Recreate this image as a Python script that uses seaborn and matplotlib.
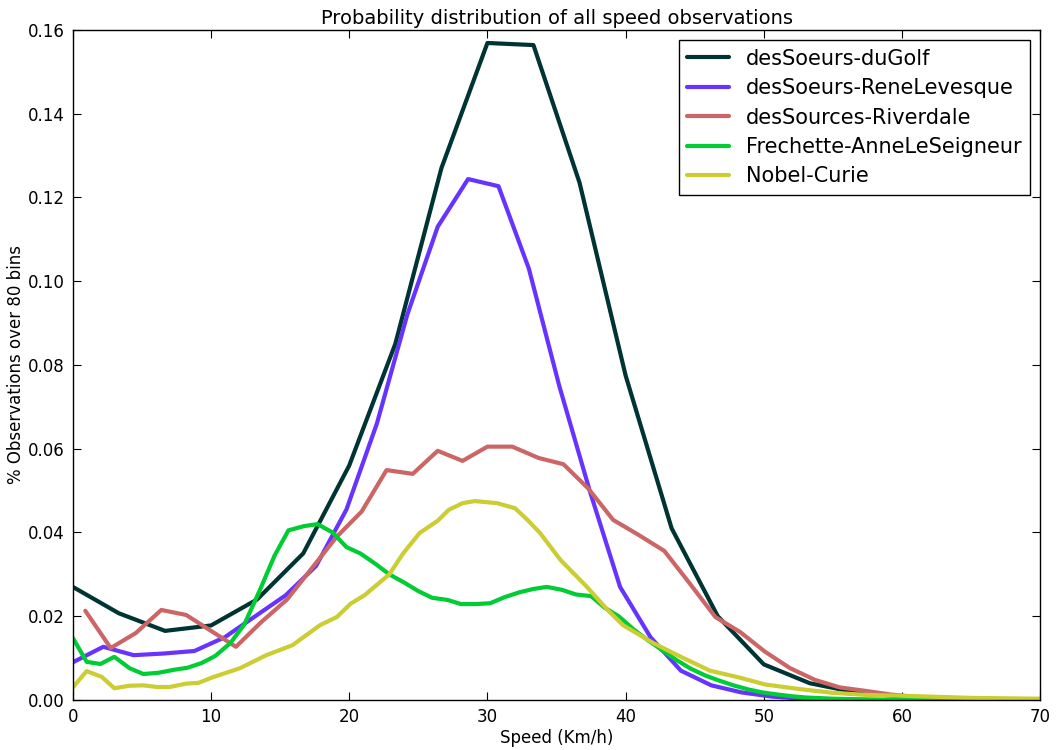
import matplotlib
matplotlib.use("Agg")
import matplotlib.pyplot as plt
import numpy as np
import pandas as pd
import seaborn as sns

# =========================
# DATA
# =========================
series_names = ["desSoeurs-duGolf", "desSoeurs-ReneLevesque", "desSources-Riverdale",
                "Frechette-AnneLeSeigneur", "Nobel-Curie"]
series_colors = ["#003333", "#6633ff", "#cc6666", "#00cc33", "#cccc33"]

golf_x = [0, 3.33, 6.67, 10, 13.33, 16.67, 20, 23.33, 26.67, 30, 33.33, 36.67, 40,
          43.33, 46.67, 50, 53.33, 56.67, 60, 63.33, 66.67, 70]
golf_y = [0.027, 0.0207, 0.0165, 0.0178, 0.024, 0.035, 0.056, 0.085, 0.127, 0.1569,
          0.1564, 0.1235, 0.0775, 0.041, 0.020, 0.0085, 0.004, 0.0018, 0.0008, 0.0003,
          0.0001, 0.0]

rene_x = [0, 2.2, 4.4, 6.6, 8.8, 11.0, 13.2, 15.4, 17.6, 19.8, 22.0, 24.2, 26.4, 28.6,
          30.8, 33.0, 35.2, 37.4, 39.6, 41.8, 44.0, 46.2, 48.4, 50.6, 52.8, 55.0, 57.2, 70]
rene_y = [0.009, 0.0127, 0.0107, 0.0111, 0.0117, 0.015, 0.020, 0.025, 0.032, 0.0455,
          0.066, 0.092, 0.113, 0.1244, 0.1227, 0.103, 0.075, 0.050, 0.027, 0.015,
          0.007, 0.0035, 0.0018, 0.0008, 0.0003, 0.0001, 0.0, 0.0]

river_x = [0.9, 2.74, 4.56, 6.4, 8.2, 10.0, 11.8, 13.6, 15.5, 17.3, 19.1, 20.9, 22.7,
           24.6, 26.4, 28.2, 30.0, 31.8, 33.7, 35.5, 37.3, 39.1, 40.9, 42.8, 44.6, 46.5,
           48.3, 50.1, 51.9, 53.7, 55.5, 57.3, 59.2, 61.0, 62.8, 64.6, 66.4, 68.3, 70.1]
river_y = [0.0213, 0.0124, 0.016, 0.0215, 0.0203, 0.0165, 0.0127, 0.0185, 0.024,
           0.0315, 0.039, 0.045, 0.0549, 0.054, 0.0595, 0.0571, 0.0605, 0.0605, 0.0578,
           0.0563, 0.0505, 0.043, 0.0395, 0.0356, 0.028, 0.0198, 0.0162, 0.0115, 0.0076,
           0.0048, 0.003, 0.0022, 0.0013, 0.0007, 0.0004, 0.0003, 0.0002, 0.0001, 0.0]

frech_x = [0, 1.0, 2.0, 3.0, 4.1, 5.1, 6.2, 7.3, 8.3, 9.3, 10.3, 11.4, 12.4, 13.5, 14.6,
           15.6, 16.7, 17.7, 18.8, 19.8, 20.8, 21.9, 22.9, 24.0, 25.0, 26.0, 27.1, 28.1,
           29.1, 30.2, 31.2, 32.3, 33.3, 34.3, 35.4, 36.4, 37.5, 38.5, 39.5, 40.6, 41.6,
           42.6, 43.7, 44.7, 45.8, 46.8, 47.8, 48.9, 49.9, 51.0, 52.0, 53.0, 55.0, 58.0,
           60.0, 70.0]
frech_y = [0.0148, 0.0091, 0.0086, 0.0103, 0.0076, 0.0062, 0.0065, 0.0072, 0.0077,
           0.0088, 0.0105, 0.0136, 0.018, 0.026, 0.0345, 0.0405, 0.0415, 0.042, 0.040,
           0.0365, 0.035, 0.0325, 0.030, 0.028, 0.026, 0.0244, 0.0239, 0.0229, 0.0229,
           0.0231, 0.0245, 0.0257, 0.0265, 0.027, 0.0263, 0.0252, 0.0248, 0.022, 0.020,
           0.0168, 0.0143, 0.012, 0.0095, 0.0075, 0.0058, 0.0046, 0.0035, 0.0025, 0.0018,
           0.0013, 0.0009, 0.0006, 0.0003, 0.0001, 0.0, 0.0]

curie_x = [0, 1.0, 2.1, 3.0, 4.1, 5.1, 6.1, 7.0, 8.2, 9.1, 10.1, 12.1, 14.0, 15.9, 17.9,
           19.1, 20.1, 21.1, 22.9, 23.9, 25.1, 26.4, 27.2, 28.2, 29.1, 30.7, 32.0, 32.9,
           33.8, 35.3, 37.2, 38.7, 39.8, 42.0, 44.0, 46.1, 48.3, 50.1, 52.6, 55.0, 57.5,
           60.1, 65.0, 70.0]
curie_y = [0.003, 0.0069, 0.0055, 0.0028, 0.0034, 0.0035, 0.0031, 0.0031, 0.0039, 0.0041,
           0.0054, 0.0076, 0.0107, 0.0131, 0.0179, 0.0198, 0.023, 0.025, 0.030, 0.035,
           0.0399, 0.0428, 0.0454, 0.047, 0.0475, 0.047, 0.0458, 0.043, 0.0399, 0.0334,
           0.027, 0.0215, 0.0179, 0.0136, 0.0103, 0.007, 0.0053, 0.0037, 0.0026, 0.0017,
           0.0012, 0.001, 0.0005, 0.0003]

x_ticks = [0, 10, 20, 30, 40, 50, 60, 70]
y_ticks = [0.00, 0.02, 0.04, 0.06, 0.08, 0.10, 0.12, 0.14, 0.16]

# =========================
# PLOT
# =========================
sns.set_style('white', {'xtick.direction': 'in', 'ytick.direction': 'in',
                        'axes.edgecolor': 'black', 'text.color': 'black',
                        'axes.labelcolor': 'black', 'xtick.color': 'black',
                        'ytick.color': 'black'})
plt.rcParams['font.family'] = ['DejaVu Sans']

frames = []
for name, xs, ys in zip(series_names,
                        [golf_x, rene_x, river_x, frech_x, curie_x],
                        [golf_y, rene_y, river_y, frech_y, curie_y]):
    frames.append(pd.DataFrame({'speed': xs, 'prob': ys, 'series': name}))
df = pd.concat(frames, ignore_index=True)

fig = plt.figure(figsize=(10.56, 7.5), dpi=100)
ax = fig.add_axes([0.069, 0.0667, 0.916, 0.8933])

sns.lineplot(data=df, x='speed', y='prob', hue='series', hue_order=series_names,
             palette=dict(zip(series_names, series_colors)), estimator=None,
             sort=False, linewidth=3, ax=ax)

ax.set_xlim(0, 70)
ax.set_ylim(0, 0.16)
ax.set_xticks(x_ticks)
ax.set_yticks(y_ticks)
ax.set_yticklabels([f"{v:.2f}" for v in y_ticks])
ax.tick_params(axis='both', which='both', direction='in', length=6, width=0.8,
               labelsize=12, top=True, right=True, bottom=True, left=True, pad=6,
               colors='black')
for sp in ax.spines.values():
    sp.set_visible(True)
    sp.set_color('black')
    sp.set_linewidth(1.0)

ax.set_xlabel('Speed (Km/h)', fontsize=12, labelpad=2, color='black')
ax.set_ylabel('% Observations over 80 bins', fontsize=12, labelpad=2, color='black')
ax.set_title('Probability distribution of all speed observations', fontsize=14, pad=4,
             color='black')

leg = ax.legend(loc='upper right', fontsize=15, fancybox=False, framealpha=1,
                edgecolor='black', handlelength=2.0, borderaxespad=0.5,
                labelspacing=0.45)
leg.get_frame().set_linewidth(1.0)
for t in leg.get_texts():
    t.set_color('black')

fig.savefig('out.png', dpi=100)
plt.close(fig)
